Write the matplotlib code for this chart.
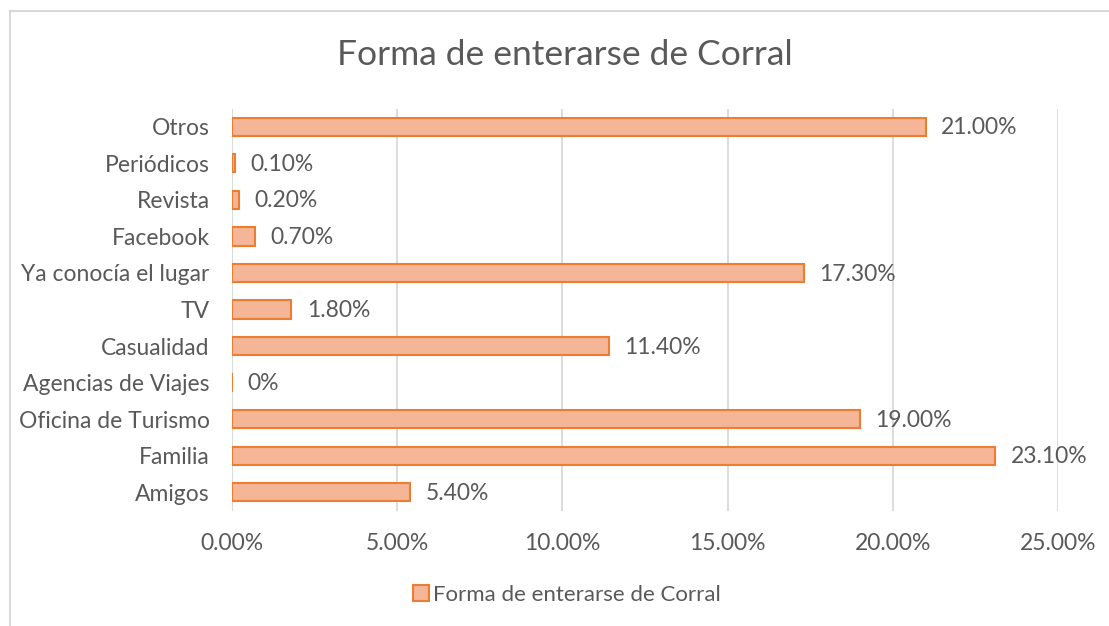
import matplotlib
matplotlib.use("Agg")
import matplotlib.pyplot as plt
from matplotlib.lines import Line2D
from matplotlib.ticker import FuncFormatter, MultipleLocator

categories = ["Amigos", "Familia", "Oficina de Turismo", "Agencias de Viajes",
              "Casualidad", "TV", "Ya conocía el lugar", "Facebook",
              "Revista", "Periódicos", "Otros"]
values = [5.4, 23.1, 19.0, 0.0, 11.4, 1.8, 17.3, 0.7, 0.2, 0.1, 21.0]
labels = ["5.40%", "23.10%", "19.00%", "0%", "11.40%", "1.80%", "17.30%",
          "0.70%", "0.20%", "0.10%", "21.00%"]
series_name = "Forma de enterarse de Corral"

plt.rcParams['font.family'] = ['Lato', 'DejaVu Sans']
gray = '#595959'

W, H = 1109, 626
fig = plt.figure(figsize=(W / 100, H / 100), dpi=100)
ax = fig.add_axes([232 / W, 1 - 510.5 / H, (1058 - 232) / W, (510.5 - 108.5) / H])

y = list(range(len(categories)))
ax.barh(y, values, height=0.5, color='#F5B597', edgecolor='#ED7D31',
        linewidth=1.5, label=series_name, zorder=3)
for yi, v, lab in zip(y, values, labels):
    ax.text(v + 0.47, yi - 0.03, lab, va='center', ha='left', fontsize=16.5,
            color=gray)

ax.set_xlim(0, 25)
ax.set_ylim(-0.5, len(categories) - 0.5)
ax.set_yticks(y)
ax.set_yticklabels(categories, fontsize=16.5, color=gray)
ax.xaxis.set_major_locator(MultipleLocator(5))
ax.xaxis.set_major_formatter(FuncFormatter(lambda v, p: f"{v:.2f}%"))
ax.tick_params(axis='x', labelsize=16.5, colors=gray, length=0, pad=16)
ax.tick_params(axis='y', length=0, pad=16)
ax.grid(axis='x', color='#D9D9D9', linewidth=1.3, zorder=0)
ax.axvline(0, color='#D9D9D9', linewidth=1.3, zorder=1)
for s in ax.spines.values():
    s.set_visible(False)

fig.text(565 / W, 1 - 55 / H, series_name, ha='center', va='center',
         fontsize=25.5, color=gray)

leg = fig.legend(loc='center', bbox_to_anchor=(567 / W, 1 - 595 / H),
                 frameon=False, fontsize=16, handlelength=0.7,
                 handleheight=0.7, handletextpad=0.2)
for t in leg.get_texts():
    t.set_color(gray)

# chart frame (partly cropped)
fig.add_artist(Line2D([9.5 / W, 9.5 / W], [0, 1 - 10.5 / H], color='#D9D9D9',
                      linewidth=1.5, transform=fig.transFigure))
fig.add_artist(Line2D([9.5 / W, 1], [1 - 10.5 / H, 1 - 10.5 / H],
                      color='#D9D9D9', linewidth=1.5, transform=fig.transFigure))

fig.savefig("out.png", dpi=100)
